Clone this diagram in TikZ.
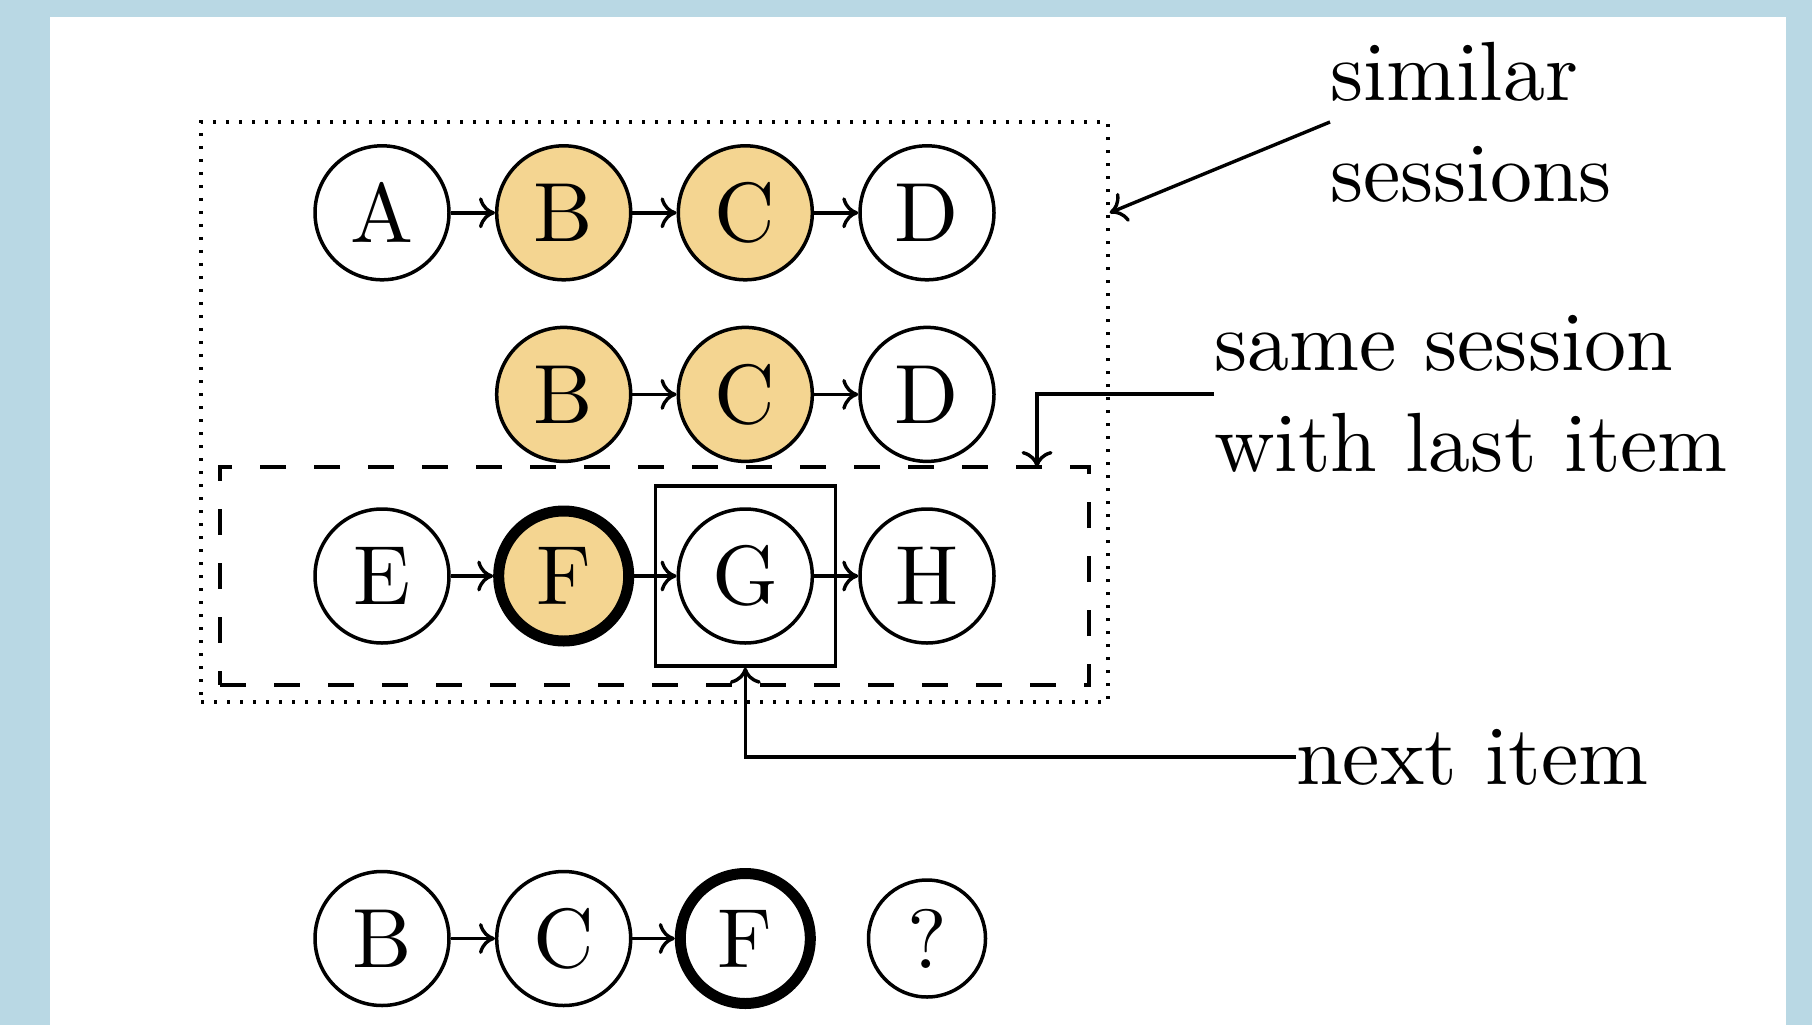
\documentclass[tikz,border=0pt]{standalone}
\usepackage{fontspec}
\setmainfont{lmroman10-regular}[Extension=.otf]
\usetikzlibrary{arrows.meta}
\definecolor{framebg}{RGB}{185,216,228}
\definecolor{hl}{RGB}{244,213,145}
\begin{document}
\begin{tikzpicture}[x=1pt,y=-1pt,
  every node/.style={font=\fontsize{84}{100.8}\selectfont},
  item/.style={circle, draw, line width=3.5pt, minimum size=134pt, inner sep=0pt, fill=white},
  hit/.style={item, fill=hl},
  focus/.style={line width=11pt, minimum size=130pt},
  small/.style={minimum size=117pt},
  link/.style={line width=3.4pt, -{Computer Modern Rightarrow[length=16pt,width=31pt]}},
  lbl/.style={inner sep=0pt, align=left, anchor=west},
  dotbox/.style={draw, line width=3.4pt, dash pattern=on 3.4pt off 9.6pt, inner sep=0pt},
  dashbox/.style={draw, line width=4pt, dash pattern=on 26pt off 28pt, inner sep=0pt},
  pickbox/.style={draw, line width=3.4pt, inner sep=0pt, minimum size=180pt}
]
\useasboundingbox (0,0) rectangle (1812,1025);
\fill[framebg] (0,0) rectangle (1812,1025);
\fill[white] (50,17) rectangle (1786,1025);

% grouping boxes
\node[dotbox, minimum width=907pt, minimum height=580pt] (simbox) at (654.5,412) {};
\node[dashbox, minimum width=869pt, minimum height=218pt] (lastbox) at (654.5,576) {};

% row 1
\node[item] (a1) at (382,212.8) {A};
\node[hit]  (b1) at (563.7,212.8) {B};
\node[hit]  (c1) at (745.3,212.8) {C};
\node[item] (d1) at (927,212.8) {D};
% row 2
\node[hit]  (b2) at (563.7,394.4) {B};
\node[hit]  (c2) at (745.3,394.4) {C};
\node[item] (d2) at (927,394.4) {D};
% row 3
\node[item] (e3) at (382,576) {E};
\node[hit, focus] (f3) at (563.7,576) {F};
\node[item] (g3) at (745.3,576) {G};
\node[item] (h3) at (927,576) {H};
\node[pickbox] (gbox) at (g3) {};
% row 4
\node[item] (b4) at (382,938.5) {B};
\node[item] (c4) at (563.7,938.5) {C};
\node[item, focus] (f4) at (745.3,938.5) {F};
\node[item, small] (q4) at (927,938.5) {?};

\foreach \s/\t in {a1/b1,b1/c1,c1/d1,b2/c2,c2/d2,e3/f3,f3/g3,g3/h3,b4/c4,c4/f4}
  \draw[link] (\s) -- (\t);

% labels
\node[lbl] (sim) at (1330,122) {similar\\sessions};
\node[lbl] (same) at (1214,394) {same session\\with last item};
\node[lbl] (next) at (1296,757) {next item};

\coordinate (lastin) at (1037,467);
\draw[link] (sim.west) -- (simbox.east |- a1);
\draw[link] (same.west) -| (lastin);
\draw[link] (next.west) -| (gbox.south);
\end{tikzpicture}
\end{document}
